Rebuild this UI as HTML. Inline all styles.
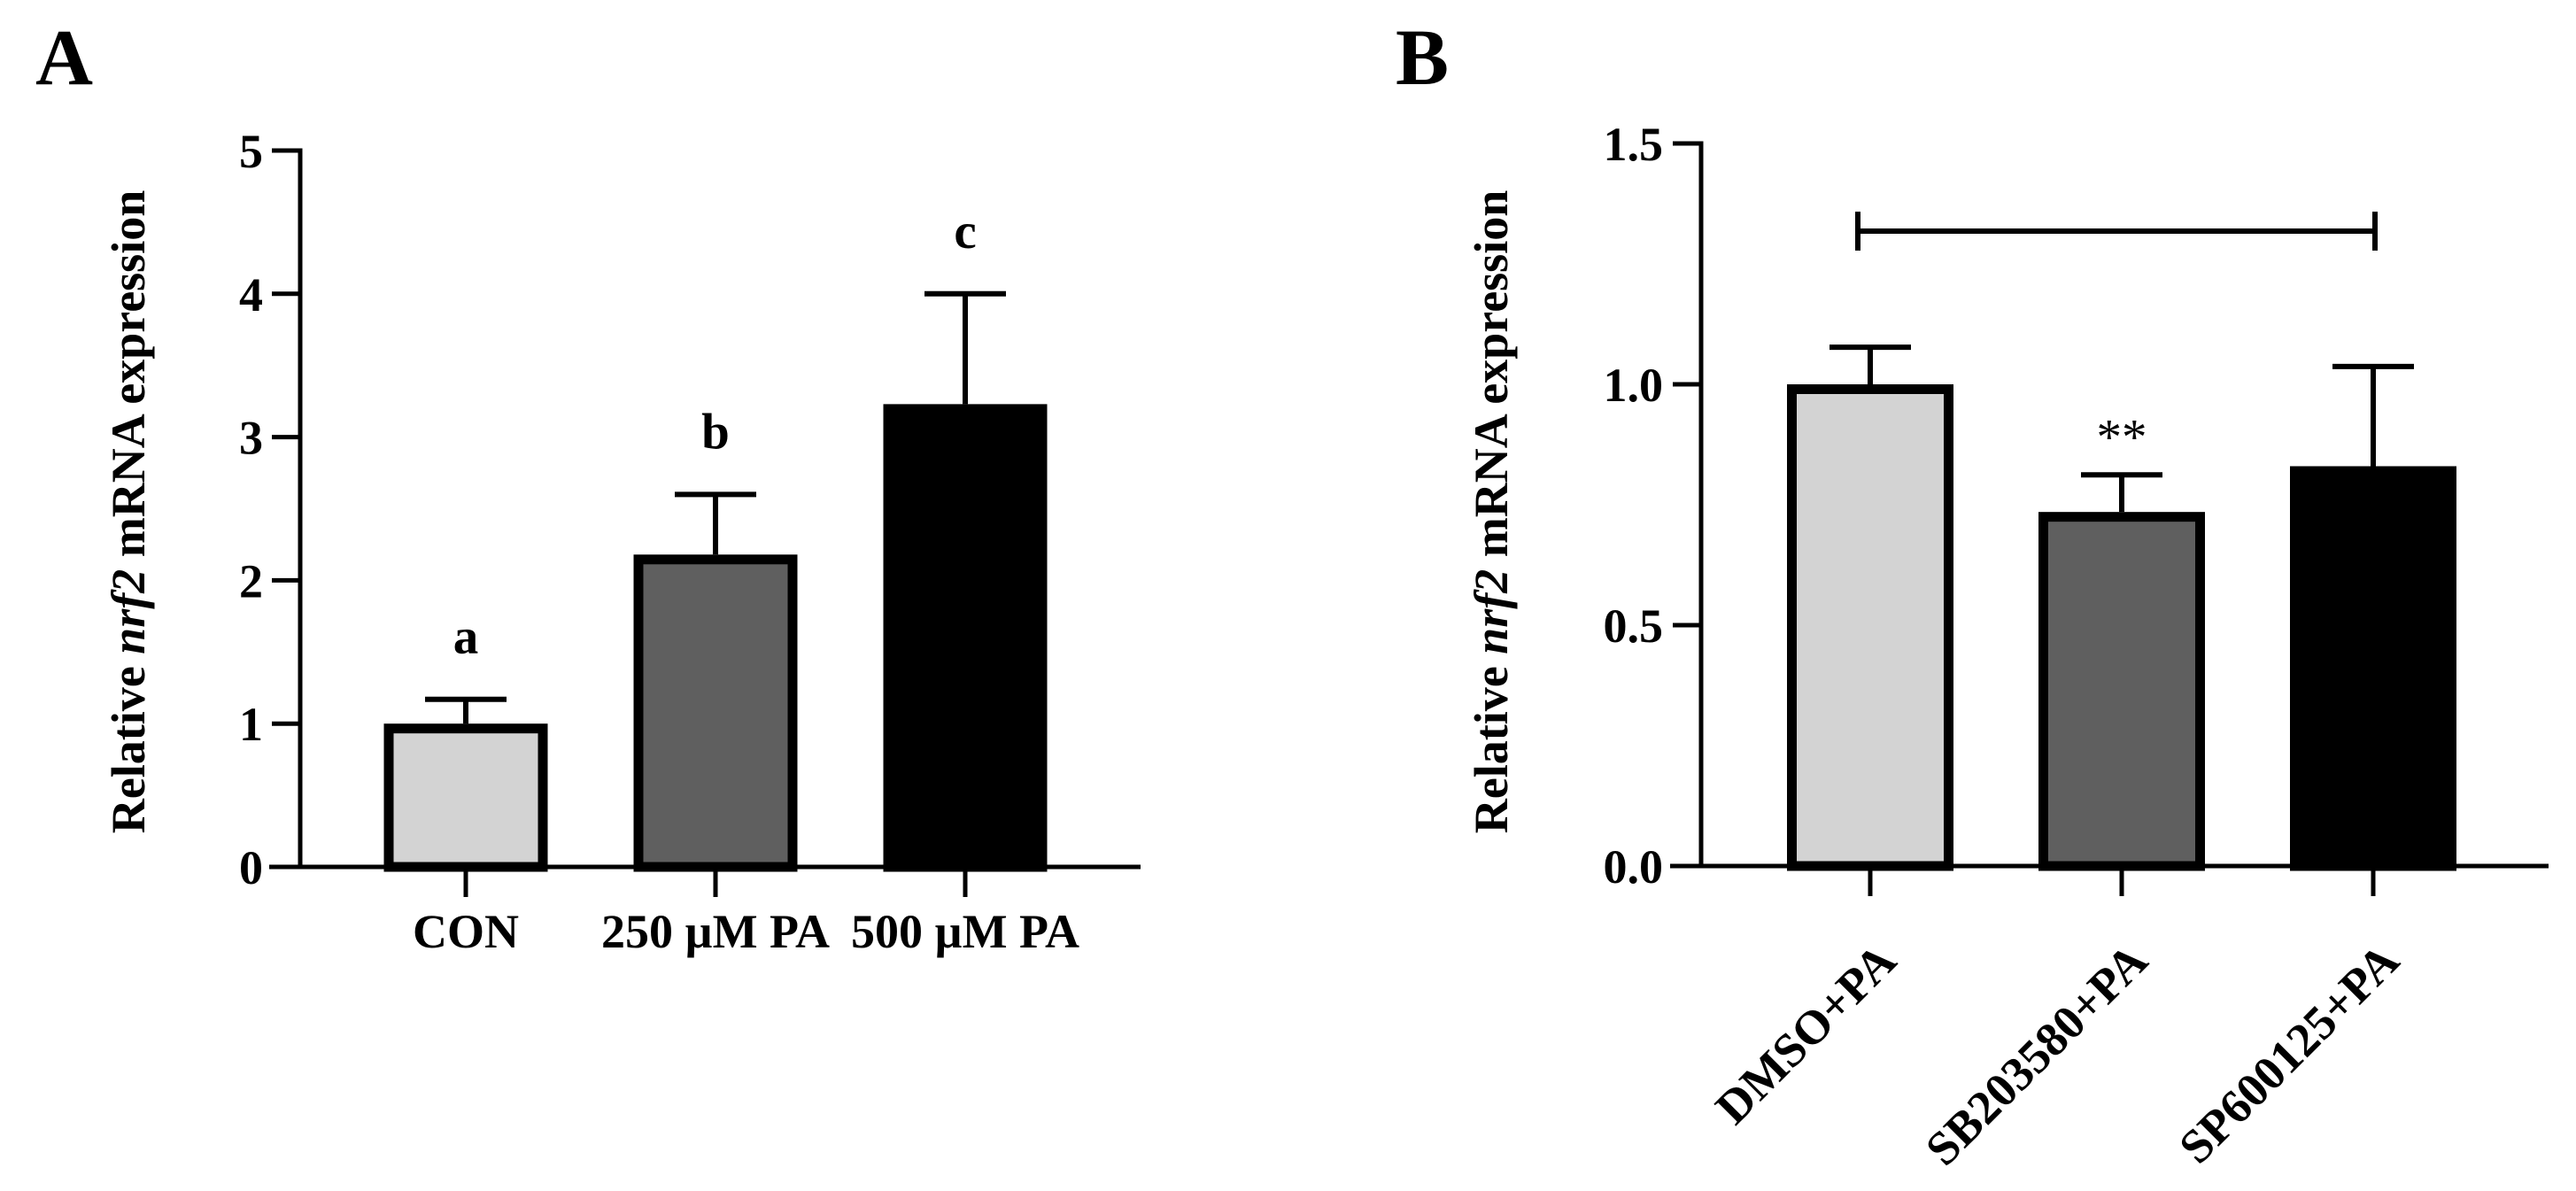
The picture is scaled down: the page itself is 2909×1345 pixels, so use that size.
<!DOCTYPE html>
<html><head><meta charset="utf-8"><style>
html,body{margin:0;padding:0;background:#fff}
svg{display:block}
text{font-family:"Liberation Serif",serif;fill:#000}
</style></head><body>
<svg id="chart" width="2909" height="1345" viewBox="0 0 2909 1345" xmlns="http://www.w3.org/2000/svg">
<text x="40" y="95" font-size="90" font-weight="bold">A</text>
<text x="1576" y="95" font-size="90" font-weight="bold">B</text>
<text transform="translate(163,578) rotate(-90)" text-anchor="middle" font-size="54" font-weight="bold">Relative <tspan font-style="italic">nrf2</tspan> mRNA expression</text>
<text transform="translate(1702,578) rotate(-90)" text-anchor="middle" font-size="54" font-weight="bold">Relative <tspan font-style="italic">nrf2</tspan> mRNA expression</text>
<g id="gA"></g>
<g id="gB"></g>
</svg>
<script>
const catsA = ["CON", "250 µM PA", "500 µM PA"];
const valsA = [1.0, 2.18, 3.23];
const errA = [1.17, 2.6, 4.0];
const lettersA = ["a", "b", "c"];
const ticksA = [0, 1, 2, 3, 4, 5];
const tickLabelsA = ["0", "1", "2", "3", "4", "5"];

const catsB = ["DMSO+PA", "SB203580+PA", "SP600125+PA"];
const valsB = [1.0, 0.735, 0.83];
const errB = [1.077, 0.812, 1.037];
const marksB = ["", "**", ""];
const ticksB = [0, 0.5, 1.0, 1.5];
const tickLabelsB = ["0.0", "0.5", "1.0", "1.5"];
const bracketB = [0, 2, 1.318];

const fills = ["#d3d3d3", "#5f5f5f", "#000000"];
const NS = "http://www.w3.org/2000/svg";
function mk(tag, attrs, parent) {
  const e = document.createElementNS(NS, tag);
  for (const k in attrs) e.setAttribute(k, attrs[k]);
  parent.appendChild(e);
  return e;
}
function drawPanel(g, cfg) {
  const y = v => cfg.y0 - (v - cfg.vmin) / (cfg.vmax - cfg.vmin) * (cfg.y0 - cfg.yTop);
  const x = i => cfg.x0c + i * cfg.step;
  // bars
  cfg.vals.forEach((v, i) => {
    const cx = x(i), w = cfg.bw, sw = 11;
    const r = mk("rect", {x: cx - w/2 + sw/2, y: y(v) + sw/2, width: w - sw, height: cfg.y0 - y(v) - sw/2, fill: fills[i], stroke: "#000", "stroke-width": sw}, g);
    
    
    const el = mk("path", {d: `M${cx},${y(v)} V${y(cfg.err[i])} M${cx - 46},${y(cfg.err[i])} H${cx + 46}`, stroke: "#000", "stroke-width": 6, fill: "none"}, g);
    
    
    const lab = cfg.labels[i];
    if (lab) {
      const t = mk("text", {x: cx, y: y(cfg.err[i]) - cfg.labelGap, "text-anchor": "middle", "font-size": 57, "font-weight": cfg.labelBold ? "bold" : "normal"}, g);
      t.textContent = lab;
      
      
    }
    // x tick
    const tk = mk("line", {x1: cx, y1: cfg.y0, x2: cx, y2: cfg.y0 + 34, stroke: "#000", "stroke-width": 5}, g);
    
    
    const ct = mk("text", cfg.rotate
      ? {transform: `translate(${cx + 32},${cfg.y0 + 110}) rotate(-45)`, "text-anchor": "end", "font-size": 54, "font-weight": "bold"}
      : {x: cx, y: 1070, "text-anchor": "middle", "font-size": 54, "font-weight": "bold"}, g);
    ct.textContent = cfg.cats[i];
    
    
  });
  // axes
  const ya = mk("line", {x1: cfg.ax, y1: cfg.yTop - 2.5, x2: cfg.ax, y2: cfg.y0 + 2.5, stroke: "#000", "stroke-width": 5}, g);
  
  
  const xa = mk("line", {x1: cfg.ax - 35, y1: cfg.y0, x2: cfg.xEnd, y2: cfg.y0, stroke: "#000", "stroke-width": 5}, g);
  
  
  cfg.ticks.forEach((v, i) => {
    const l = mk("line", {x1: cfg.ax - 32, y1: y(v), x2: cfg.ax, y2: y(v), stroke: "#000", "stroke-width": 5}, g);
    
    
    const t = mk("text", {x: cfg.tickLabelX, y: y(v) + 19, "text-anchor": "end", "font-size": 54, "font-weight": "bold"}, g);
    t.textContent = cfg.tickLabels[i];
    
    
  });
  if (cfg.bracket) {
    const [a, b, v] = cfg.bracket;
    const by = y(v);
    const br = mk("path", {d: `M${x(a) - 14},${by - 22} V${by + 22} M${x(a) - 14},${by} H${x(b) + 2} M${x(b) + 2},${by - 22} V${by + 22}`, stroke: "#000", "stroke-width": 6, fill: "none"}, g);
    
    
  }
}
drawPanel(document.getElementById("gA"), {
  vals: valsA, err: errA, labels: lettersA, cats: catsA, ticks: ticksA, tickLabels: tickLabelsA,
  vmin: 0, vmax: 5, y0: 979, yTop: 170, ax: 339, xEnd: 1288, x0c: 526, step: 282, bw: 185,
  tickLabelX: 297, labelGap: 52, labelBold: true, rotate: false
});
drawPanel(document.getElementById("gB"), {
  vals: valsB, err: errB, labels: marksB, cats: catsB, ticks: ticksB, tickLabels: tickLabelsB,
  vmin: 0, vmax: 1.5, y0: 978, yTop: 162, ax: 1921, xEnd: 2878, x0c: 2112, step: 284, bw: 188,
  tickLabelX: 1878, labelGap: 24, labelBold: false, rotate: true, bracket: bracketB
});
</script>
</body></html>
